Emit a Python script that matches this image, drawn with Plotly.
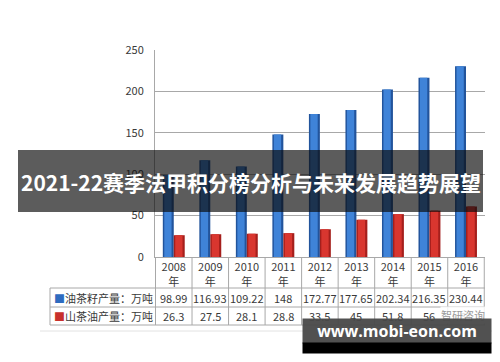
import plotly.graph_objects as go

years = ["2008", "2009", "2010", "2011", "2012", "2013", "2014", "2015", "2016"]
year_unit = "年"
seed_output = [98.99, 116.93, 109.22, 148, 172.77, 177.65, 202.34, 216.35, 230.44]
oil_output = [26.3, 27.5, 28.1, 28.8, 33.5, 45, 51.8, 56, 61]
seed_label = "油茶籽产量：万吨"
oil_label = "山茶油产量：万吨"
y_ticks = [0, 50, 100, 150, 200, 250]
title_text = "2021-22赛季法甲积分榜分析与未来发展趋势展望"
site_text = "www.mobi-eon.com"
mark_text = "智研咨询"

# page body has an 8px margin: the figure is sized to fit the 500x362 window
OFF = 8
W, H = 500 - OFF, 362 - OFF
L, R, T, B = 155 - OFF, 15, 50 - OFF, 105
PW, PH = W - L - R, H - T - B


def px(x):
    return (x - OFF - L) / PW


def py(y):
    return (H - B - (y - OFF)) / PH


FONT = "Noto Sans CJK SC"
TXT = "#3a3a3a"

fig = go.Figure()
fig.add_trace(go.Bar(x=years, y=seed_output, offset=-0.3, width=0.3,
                     marker=dict(color="#22549c", line=dict(width=0)), hoverinfo="skip"))
fig.add_trace(go.Bar(x=years, y=seed_output, offset=-0.26, width=0.2,
                     marker=dict(color="#3f83d8", line=dict(width=0)), hoverinfo="skip"))
fig.add_trace(go.Bar(x=years, y=oil_output, offset=0.0, width=0.3,
                     marker=dict(color="#a51f1c", line=dict(width=0)), hoverinfo="skip"))
fig.add_trace(go.Bar(x=years, y=oil_output, offset=0.04, width=0.2,
                     marker=dict(color="#d9362f", line=dict(width=0)), hoverinfo="skip"))

fig.update_layout(
    width=W, height=H, margin=dict(l=L, r=R, t=T, b=B, autoexpand=False),
    paper_bgcolor="white", plot_bgcolor="white",
    barmode="overlay", showlegend=False,
    font=dict(family=FONT, color=TXT, size=11),
)
fig.update_yaxes(range=[0, 250], tickvals=y_ticks, showgrid=True, gridcolor="#a8a8a8",
                 gridwidth=1, zeroline=False, showline=True, linecolor="#a8a8a8",
                 ticks="", ticklabelstandoff=8, tickfont=dict(size=11, color=TXT))
fig.update_xaxes(type="category", tickvals=years,
                 ticktext=[y + "<br>" + year_unit for y in years],
                 showline=True, linecolor="#a8a8a8", ticks="", showgrid=False,
                 tickfont=dict(size=11, color=TXT), ticklabelstandoff=0)

line_style = dict(color="#a8a8a8", width=1)
for k in range(len(years) + 1):
    fig.add_shape(type="line", xref="x", yref="paper", x0=k - 0.5, x1=k - 0.5,
                  y0=py(257), y1=py(325), line=line_style)
fig.add_shape(type="line", xref="paper", yref="paper", x0=px(50), x1=px(50),
              y0=py(288), y1=py(325), line=line_style)
for yy in (288, 307, 325):
    fig.add_shape(type="line", xref="paper", yref="paper", x0=px(50), x1=1,
                  y0=py(yy), y1=py(yy), line=line_style)
fig.add_shape(type="line", xref="paper", yref="paper", x0=px(40), x1=px(492),
              y0=py(331), y1=py(331), line=dict(color="#e2e2e2", width=1))

ann = dict(showarrow=False, xanchor="center", yanchor="middle")
for i, yr in enumerate(years):
    fig.add_annotation(x=i, xref="x", y=py(297.5), yref="paper", text=f"{seed_output[i]:g}",
                       font=dict(size=11, color=TXT), **ann)
    fig.add_annotation(x=i, xref="x", y=py(316), yref="paper", text=f"{oil_output[i]:g}",
                       font=dict(size=11, color=TXT), **ann)

fig.add_annotation(x=px(52), xref="paper", y=py(297.5), yref="paper", xanchor="left",
                   yanchor="middle", showarrow=False,
                   text="<span style='color:#2e6bbf'>■</span>" + seed_label,
                   font=dict(size=11, color=TXT))
fig.add_annotation(x=px(52), xref="paper", y=py(316), yref="paper", xanchor="left",
                   yanchor="middle", showarrow=False,
                   text="<span style='color:#c8302b'>■</span>" + oil_label,
                   font=dict(size=11, color=TXT))

fig.add_annotation(x=px(463), xref="paper", y=py(315), yref="paper", text=mark_text,
                   font=dict(size=11, color="#9a9a9a"),
                   bgcolor="rgba(255,255,255,0.85)", borderpad=0, **ann)

fig.add_shape(type="rect", xref="paper", yref="paper", x0=px(18), x1=px(483),
              y0=py(212), y1=py(150), fillcolor="rgba(12,12,12,0.67)",
              line=dict(width=0), layer="above")
fig.add_annotation(x=px(250.5), xref="paper", y=py(182), yref="paper", text="<b>" + title_text + "</b>",
                   font=dict(size=21, color="white", family=FONT), **ann)

fig.add_annotation(x=px(397), xref="paper", y=py(331), yref="paper", text="<b>" + site_text + "</b>",
                   font=dict(size=16, color="white", family="Open Sans"),
                   bgcolor="rgba(72,72,72,0.95)", width=188, height=24, borderpad=0, **ann)
fig.add_annotation(x=px(397), xref="paper", y=py(348), yref="paper", text=" ",
                   font=dict(size=6, color="black"),
                   bgcolor="black", width=188, height=10, borderpad=0, **ann)

fig.write_html("out.html")
